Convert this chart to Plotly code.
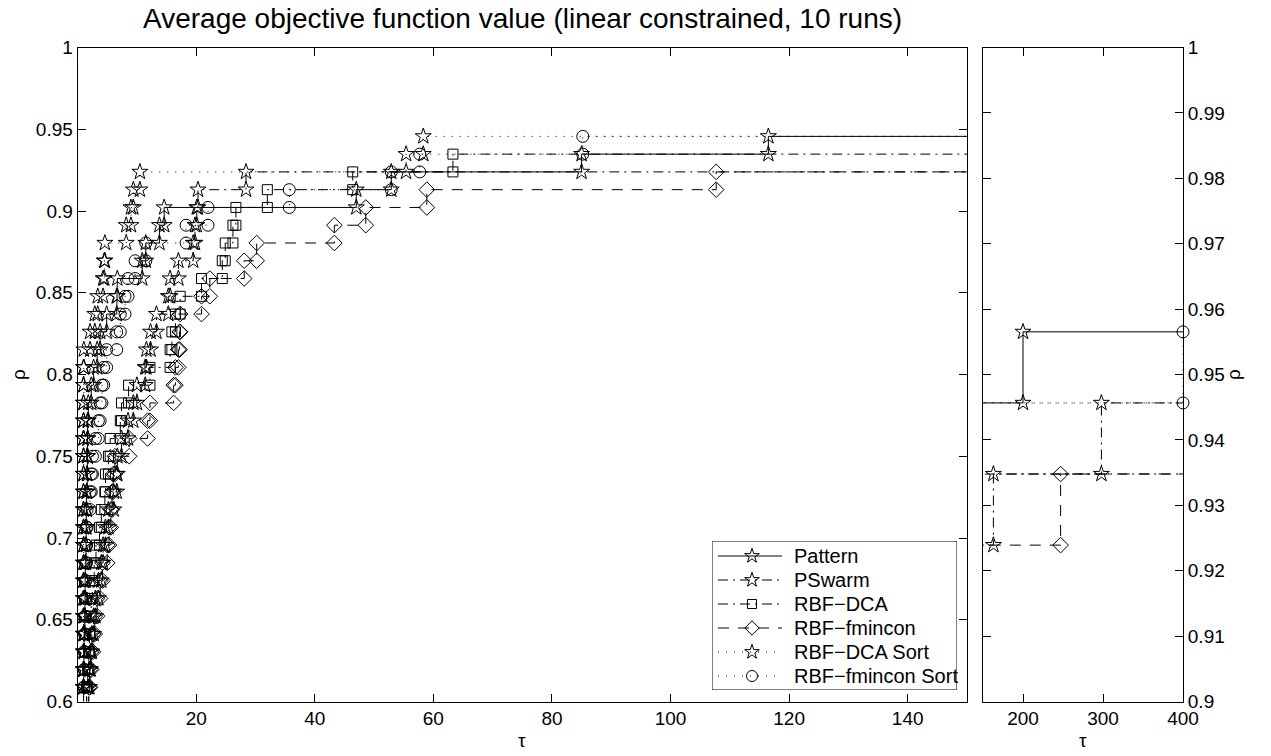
import plotly.graph_objects as go

# Performance profile: each list holds the sorted performance ratios tau at which
# the solver has solved 55, 56, 57, ... of the 92 test problems.
N_PROBLEMS = 92
FIRST_COUNT = 55
TAU_MAX = 400

series_names = ["Pattern", "PSwarm", "RBF\u2212DCA", "RBF\u2212fmincon",
                "RBF\u2212DCA Sort", "RBF\u2212fmincon Sort"]

pattern_ratios = [1.0, 1.0, 1.0, 1.1, 1.1, 1.2, 1.2, 1.3, 1.3, 1.4, 1.4, 1.5,
                  1.5, 1.6, 1.6, 1.7, 1.7, 1.8, 2.3, 2.7, 3.3, 3.8, 4.9, 6.6,
                  6.7, 10.9, 11.5, 13.8, 14.6, 47.0, 52.9, 85.0, 116.5, 200.0]

pswarm_ratios = [1.5, 1.8, 2.0, 2.2, 2.4, 2.7, 3.0, 3.5, 4.0, 4.3, 4.7, 5.2,
                 6.1, 6.6, 6.7, 7.4, 8.5, 9.4, 10.0, 11.4, 11.6, 12.3, 13.3,
                 15.3, 15.6, 17.0, 19.5, 19.8, 20.1, 20.3, 28.4, 163.0, 298.0]

rbf_dca_ratios = [1.3, 1.5, 1.7, 1.9, 2.0, 2.1, 2.3, 2.5, 2.8, 3.1, 3.7, 4.0,
                  4.6, 4.7, 5.2, 5.5, 7.2, 7.4, 8.6, 12.2, 15.6, 15.9, 16.5,
                  17.3, 20.9, 24.4, 24.9, 26.2, 26.7, 32.0, 46.4, 63.3]

rbf_fmincon_ratios = [1.6, 1.9, 2.1, 2.3, 2.6, 2.9, 3.3, 3.8, 4.2, 5.0, 5.3,
                      5.6, 5.8, 6.0, 6.3, 8.7, 11.8, 12.2, 16.2, 16.5, 17.0,
                      17.2, 17.3, 20.9, 22.3, 28.1, 30.2, 43.3, 48.6, 58.9,
                      107.7, 247.0]

rbf_dca_sort_ratios = [1.0, 1.0, 1.0, 1.0, 1.0, 1.0, 1.0, 1.0, 1.0, 1.0, 1.0,
                       1.0, 1.0, 1.0, 1.0, 1.0, 1.0, 1.0, 1.0, 1.0, 1.05, 2.1,
                       2.9, 3.4, 4.3, 4.5, 4.6, 8.2, 9.0, 9.4, 10.5, 55.4, 58.3]

rbf_fmincon_sort_ratios = [1.0, 1.0, 1.1, 1.1, 1.2, 1.2, 1.3, 1.3, 1.4, 1.5,
                           1.5, 1.6, 2.1, 2.3, 2.5, 3.0, 3.5, 3.8, 4.1, 4.4,
                           4.9, 6.6, 7.2, 8.0, 8.5, 9.7, 11.5, 18.3, 22.0,
                           35.7, 52.9, 57.7, 85.2, 400.0]

all_ratios = [pattern_ratios, pswarm_ratios, rbf_dca_ratios, rbf_fmincon_ratios,
              rbf_dca_sort_ratios, rbf_fmincon_sort_ratios]

# line dash and marker for each solver
dashes = ["solid", "10px,5px,2px,5px", "10px,5px,2px,5px", "11px,9px",
          "1px,7px", "1px,7px"]
symbols = ["star-open", "star-open", "square-open", "diamond-open",
           "star-open", "circle-open"]
marker_sizes = [12, 12, 10, 12, 12, 12]

FONT = "Liberation Sans, Arial, Helvetica, sans-serif"


def stair_vertices(ratios):
    """Corner points of the staircase drawn through (ratio_i, count_i/N)."""
    xs, ys = [], []
    prev = None
    for i, r in enumerate(ratios):
        level = (FIRST_COUNT + i) / N_PROBLEMS
        if prev is not None:
            xs.append(r)
            ys.append(prev)
        xs.append(r)
        ys.append(level)
        prev = level
    return xs, ys


panels = [
    dict(xa="x", ya="y", xr=(0, 150), yr=(0.6, 1.0)),
    dict(xa="x2", ya="y2", xr=(150, 400), yr=(0.9, 1.0)),
]

fig = go.Figure()

for idx, ratios in enumerate(all_ratios):
    xs, ys = stair_vertices(ratios)
    line_x = xs + [TAU_MAX]
    line_y = ys + [ys[-1]]
    for p in panels:
        fig.add_trace(go.Scatter(
            x=line_x, y=line_y, mode="lines", xaxis=p["xa"], yaxis=p["ya"],
            line=dict(color="black", width=1, dash=dashes[idx]),
            showlegend=False, hoverinfo="skip"))
        inside = [(x, y) for x, y in zip(xs, ys)
                  if p["xr"][0] <= x <= p["xr"][1] and p["yr"][0] <= y <= p["yr"][1]]
        fig.add_trace(go.Scatter(
            x=[q[0] for q in inside], y=[q[1] for q in inside], mode="markers",
            xaxis=p["xa"], yaxis=p["ya"],
            marker=dict(symbol=symbols[idx], size=marker_sizes[idx],
                        color="black", line=dict(color="black", width=1)),
            cliponaxis=False, showlegend=False, hoverinfo="skip"))

W, H = 1271, 756
left_px, right_px = 77.6, 967.0
left2_px, right2_px = 983.0, 1183.0
top_px, bottom_px = 47.5, 701.5
ydom = [(H - bottom_px) / H, (H - top_px) / H]

# legend box, in page pixels
LEG_L, LEG_R, LEG_T, LEG_B = 712, 957, 541, 690
LEG_ROW0, LEG_ROW_STEP = 556, 24
LEG_LINE = (718, 782)
LEG_MARK_X = 752
LEG_TEXT_X = 792

annotations = []
for idx, name in enumerate(series_names):
    yc = LEG_ROW0 + idx * LEG_ROW_STEP
    fig.add_trace(go.Scatter(
        x=list(LEG_LINE), y=[yc, yc], mode="lines", xaxis="x3", yaxis="y3",
        line=dict(color="black", width=1, dash=dashes[idx]),
        showlegend=False, hoverinfo="skip"))
    fig.add_trace(go.Scatter(
        x=[LEG_MARK_X], y=[yc], mode="markers", xaxis="x3", yaxis="y3",
        marker=dict(symbol=symbols[idx], size=marker_sizes[idx] - 1,
                    color="black", line=dict(color="black", width=1)),
        cliponaxis=False, showlegend=False, hoverinfo="skip"))
    annotations.append(dict(
        text=name, x=LEG_TEXT_X, y=yc, xref="x3", yref="y3",
        xanchor="left", yanchor="middle", showarrow=False,
        font=dict(family=FONT, size=20, color="black")))

axis_common = dict(showline=True, linecolor="black", linewidth=1, mirror="ticks",
                   ticks="inside", ticklen=8, tickwidth=1, tickcolor="black",
                   showgrid=False, zeroline=False, automargin=False,
                   tickfont=dict(family=FONT, size=19, color="black"))

y_main_ticks = [0.6, 0.65, 0.7, 0.75, 0.8, 0.85, 0.9, 0.95, 1.0]
y_main_text = ["0.6", "0.65", "0.7", "0.75", "0.8", "0.85", "0.9", "0.95", "1"]
y_side_ticks = [0.9, 0.91, 0.92, 0.93, 0.94, 0.95, 0.96, 0.97, 0.98, 0.99, 1.0]
y_side_text = ["0.9", "0.91", "0.92", "0.93", "0.94", "0.95", "0.96", "0.97",
               "0.98", "0.99", "1"]


def label(text, x, y, size, angle=0):
    return dict(text=text, x=x / W, y=1 - y / H, xref="paper", yref="paper",
                xanchor="center", yanchor="middle", showarrow=False,
                textangle=angle, font=dict(family=FONT, size=size, color="black"))


annotations += [
    label("Average objective function value (linear constrained, 10 runs)",
          522, 18, 28),
    label("\u03c4", 522, 740, 19),
    label("\u03c4", 1083, 740, 19),
    label("\u03c1", 18, 375, 19, -90),
    label("\u03c1", 1233, 375, 19, -90),
]

fig.update_layout(
    width=W, height=H,
    margin=dict(l=0, r=0, t=0, b=0, pad=0, autoexpand=False),
    paper_bgcolor="white", plot_bgcolor="white", showlegend=False,
    font=dict(family=FONT, color="black"),
    xaxis=dict(domain=[left_px / W, right_px / W], range=[0, 150], anchor="y",
               tickvals=[20, 40, 60, 80, 100, 120, 140], **axis_common),
    yaxis=dict(domain=ydom, range=[0.6, 1.0], anchor="x",
               tickvals=y_main_ticks, ticktext=y_main_text, **axis_common),
    xaxis2=dict(domain=[left2_px / W, right2_px / W], range=[150, 400], anchor="y2",
                tickvals=[200, 300, 400], **axis_common),
    yaxis2=dict(domain=ydom, range=[0.9, 1.0], anchor="x2", side="right",
                tickvals=y_side_ticks, ticktext=y_side_text, **axis_common),
    xaxis3=dict(domain=[LEG_L / W, LEG_R / W], range=[LEG_L, LEG_R], anchor="y3",
                visible=False, fixedrange=True),
    yaxis3=dict(domain=[(H - LEG_B) / H, (H - LEG_T) / H], range=[LEG_B, LEG_T],
                anchor="x3", visible=False, fixedrange=True),
    shapes=[dict(type="rect", xref="x3", yref="y3", x0=LEG_L, x1=LEG_R,
                 y0=LEG_T, y1=LEG_B, line=dict(color="black", width=1),
                 fillcolor="white", layer="below")],
    annotations=annotations,
)

fig.write_html("out.html")
